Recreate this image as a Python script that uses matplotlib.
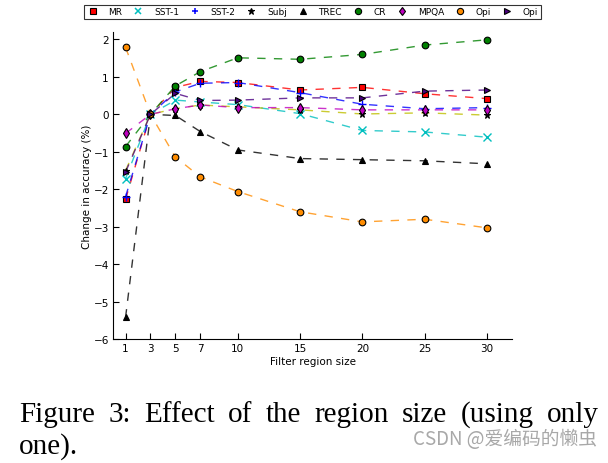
import matplotlib
matplotlib.use("Agg")
import matplotlib.pyplot as plt
from matplotlib.lines import Line2D

x_vals = [1, 3, 5, 7, 10, 15, 20, 25, 30]

mr    = [-2.27, 0.0, 0.72, 0.88, 0.85, 0.65, 0.72, 0.55, 0.42]
sst1  = [-1.72, 0.0, 0.38, 0.33, 0.26, 0.02, -0.43, -0.47, -0.61]
sst2  = [-2.20, 0.0, 0.60, 0.83, 0.85, 0.58, 0.27, 0.15, 0.18]
subj  = [-1.50, 0.0, 0.15, 0.25, 0.20, 0.12, 0.01, 0.04, -0.02]
trec  = [-5.42, 0.0, -0.03, -0.46, -0.95, -1.18, -1.21, -1.24, -1.32]
cr    = [-0.86, 0.0, 0.76, 1.14, 1.51, 1.47, 1.60, 1.85, 1.99]
mpqa  = [-0.51, 0.0, 0.15, 0.25, 0.18, 0.18, 0.12, 0.12, 0.12]
opi   = [1.79, 0.0, -1.14, -1.67, -2.06, -2.60, -2.87, -2.80, -3.03]
opi2  = [-1.54, 0.0, 0.56, 0.37, 0.38, 0.44, 0.44, 0.62, 0.65]

labels = ["MR", "SST-1", "SST-2", "Subj", "TREC", "CR", "MPQA", "Opi", "Opi"]
series = [mr, sst1, sst2, subj, trec, cr, mpqa, opi, opi2]
markers = ["s", "x", "+", "*", "^", "o", "d", "o", ">"]
line_colors = ["red", "c", "blue", "y", "black", "green", "m", "darkorange", "indigo"]
face_colors = ["red", "c", "blue", "black", "black", "green", "m", "darkorange", "indigo"]

xticks = [1, 3, 5, 7, 10, 15, 20, 25, 30]
yticks = [-6, -5, -4, -3, -2, -1, 0, 1, 2]

caption_line1 = ["Figure", "3:", "Effect", "of", "the", "region", "size", "(using", "only"]
caption_line2 = "one)."
watermark = "CSDN @爱编码的懒虫"

plt.rcParams['font.family'] = ['DejaVu Sans']
fig = plt.figure(figsize=(6.08, 4.64), dpi=100)
ax = fig.add_axes([0.186, 0.267, 0.656, 0.662])

for ys, mk, lc, fc in zip(series, markers, line_colors, face_colors):
    ax.plot(x_vals, ys, linestyle=(0, (6, 6)), color=lc, lw=1.0, alpha=0.8, zorder=2)
    thin = mk in ("x", "+")
    mec = lc if thin else "black"
    ax.plot(x_vals, ys, linestyle="none", marker=mk, markersize=5.5 if thin else 4.8,
            markerfacecolor=fc, markeredgecolor=mec, markeredgewidth=1.0 if thin else 0.8,
            zorder=3)

ax.set_xlim(0, 32)
ax.set_ylim(-6, 2.2)
ax.set_xticks(xticks)
ax.set_yticks(yticks)
ax.set_yticklabels(["\u2212%d" % -t if t < 0 else str(t) for t in yticks])
ax.spines['top'].set_visible(False)
ax.spines['right'].set_visible(False)
ax.tick_params(direction='in', length=4, labelsize=7.5, top=False, right=False, pad=3)
ax.set_xlabel("Filter region size", fontsize=7.5, labelpad=2)
ax.set_ylabel("Change in accuracy (%)", fontsize=7.5, labelpad=1)

handles = []
for mk, lc, fc in zip(markers, line_colors, face_colors):
    thin = mk in ("x", "+")
    mec = lc if thin else "black"
    handles.append(Line2D([], [], linestyle="none", marker=mk, markersize=5 if thin else 4.5,
                          markerfacecolor=fc, markeredgecolor=mec,
                          markeredgewidth=1.1 if thin else 0.8))
leg = fig.legend(handles, labels, loc="center", bbox_to_anchor=(0.514, 0.972), ncol=9,
                 fontsize=6.5, frameon=True, fancybox=False, handlelength=1.2,
                 handletextpad=1.15, columnspacing=1.15, borderpad=0.3, edgecolor="black")
leg.get_frame().set_linewidth(0.8)

# justified first caption line
fig.canvas.draw()
renderer = fig.canvas.get_renderer()
cap_fs = 21
left_px, right_px = 19, 599
y1 = 1 - 415 / 464
texts = [fig.text(0, y1, w, fontsize=cap_fs, family="Liberation Serif", ha="left", va="center")
         for w in caption_line1]
widths = [t.get_window_extent(renderer).width for t in texts]
gap = (right_px - left_px - sum(widths)) / (len(widths) - 1)
xpos = left_px
for t, w in zip(texts, widths):
    t.set_x(xpos / 608)
    xpos += w + gap
fig.text(left_px / 608, 1 - 447 / 464, caption_line2, fontsize=cap_fs, family="Liberation Serif",
         ha="left", va="center")
fig.text(597 / 608, 1 - 440 / 464, watermark, fontsize=13.5, color="#a8a8a8",
         family=["Noto Sans CJK SC", "DejaVu Sans"], ha="right", va="center")

fig.savefig("out.png", dpi=100)
